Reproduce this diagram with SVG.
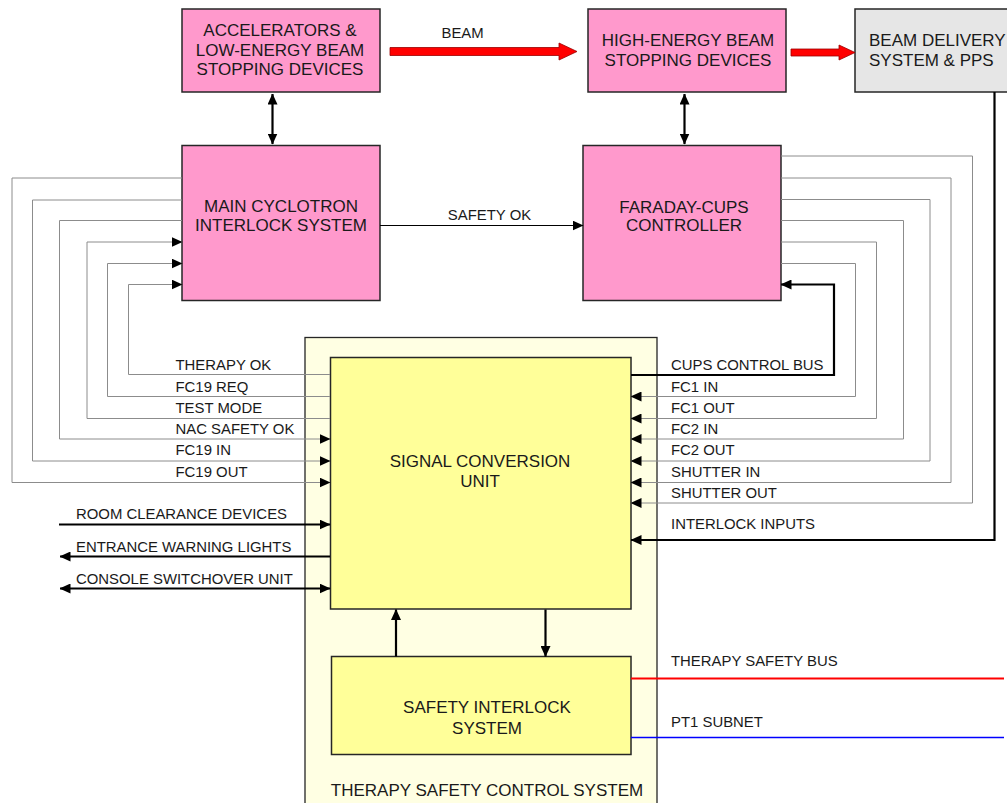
<svg xmlns="http://www.w3.org/2000/svg" width="1007" height="803" viewBox="0 0 1007 803">
<defs>
<style>
.box{stroke:#262626;stroke-width:1.5}
.pink{fill:#ff99cc}
.yel{fill:#ffff99}
.gry{fill:#e6e6e6}
.bt{font-family:"Liberation Sans",Arial,sans-serif;font-size:17px;fill:#1a1a1a;text-anchor:middle}
.lb{font-family:"Liberation Sans",Arial,sans-serif;font-size:14.9px;fill:#1a1a1a}
.thin{fill:none;stroke:#8c8c8c;stroke-width:1}
.thick{fill:none;stroke:#000;stroke-width:2.2}
.blk{fill:none;stroke:#000;stroke-width:1}
.beam{fill:#ff0000;stroke:#990000;stroke-width:0.8}
</style>
<marker id="ah" markerWidth="11" markerHeight="10" refX="10.5" refY="5" orient="auto-start-reverse" markerUnits="userSpaceOnUse">
<path d="M0,0 L11,5 L0,10 z" fill="#000"/>
</marker>
</defs>
<rect width="1007" height="803" fill="#fff"/>

<g id="tscs">
<rect x="305" y="337.5" width="352" height="480" fill="#ffffe3" stroke="#262626" stroke-width="1.3"/>
<text class="bt" x="487" y="796">THERAPY SAFETY CONTROL SYSTEM</text>
</g>

<g id="accelerators">
<rect class="box pink" x="182" y="9" width="198" height="83"/>
<text class="bt" x="280" y="36">ACCELERATORS &amp;</text>
<text class="bt" x="280" y="55.5">LOW-ENERGY BEAM</text>
<text class="bt" x="280" y="75">STOPPING DEVICES</text>
</g>

<g id="high-energy">
<rect class="box pink" x="588" y="9" width="198" height="83"/>
<text class="bt" x="688" y="46">HIGH-ENERGY BEAM</text>
<text class="bt" x="688" y="66">STOPPING DEVICES</text>
</g>

<g id="beam-delivery">
<rect class="box gry" x="855" y="9" width="200" height="83"/>
<text class="bt" x="869" y="46" style="text-anchor:start">BEAM DELIVERY</text>
<text class="bt" x="869" y="66" style="text-anchor:start">SYSTEM &amp; PPS</text>
</g>

<g id="main-cyclotron">
<rect class="box pink" x="182" y="145.5" width="198" height="155"/>
<text class="bt" x="281" y="212">MAIN CYCLOTRON</text>
<text class="bt" x="281" y="231">INTERLOCK SYSTEM</text>
</g>

<g id="faraday">
<rect class="box pink" x="583" y="145.5" width="198" height="155"/>
<text class="bt" x="684" y="212.5">FARADAY-CUPS</text>
<text class="bt" x="684" y="231">CONTROLLER</text>
</g>

<g id="scu">
<rect class="box yel" x="330.5" y="357.5" width="300.5" height="251.5"/>
<text class="bt" x="480" y="467">SIGNAL CONVERSION</text>
<text class="bt" x="480" y="487">UNIT</text>
</g>

<g id="sis">
<rect class="box yel" x="331.5" y="656.5" width="299.5" height="98"/>
<text class="bt" x="487" y="713">SAFETY INTERLOCK</text>
<text class="bt" x="487" y="734">SYSTEM</text>
</g>

<g id="connectors">
<polygon class="beam" points="390,47.5 559,47.5 559,43 577,51.5 559,60 559,55.5 390,55.5"/>
<polygon class="beam" points="791,49 839,49 839,45 855,52.5 839,60 839,56 791,56"/>
<text class="lb" x="441.5" y="38">BEAM</text>

<line class="thick" x1="272.5" y1="94" x2="272.5" y2="144" marker-start="url(#ah)" marker-end="url(#ah)"/>
<line class="thick" x1="684.5" y1="94" x2="684.5" y2="144" marker-start="url(#ah)" marker-end="url(#ah)"/>

<line class="blk" x1="380" y1="225.5" x2="583" y2="225.5" marker-end="url(#ah)"/>
<text class="lb" x="489.5" y="220" text-anchor="middle">SAFETY OK</text>

<path class="thin" d="M182,178 H12 V482.5 H330" marker-end="url(#ah)"/>
<path class="thin" d="M182,200 H32.5 V461 H330" marker-end="url(#ah)"/>
<path class="thin" d="M182,220.5 H59.5 V439 H330" marker-end="url(#ah)"/>
<path class="thin" d="M330,418.5 H87 V242 H182" marker-end="url(#ah)"/>
<path class="thin" d="M330,396.5 H107.5 V263.5 H182" marker-end="url(#ah)"/>
<path class="thin" d="M330,374.5 H128.5 V284.5 H182" marker-end="url(#ah)"/>
<text class="lb" x="175.5" y="369.5">THERAPY OK</text>
<text class="lb" x="175.5" y="391.5">FC19 REQ</text>
<text class="lb" x="175.5" y="412.5">TEST MODE</text>
<text class="lb" x="175.5" y="433.5">NAC SAFETY OK</text>
<text class="lb" x="175.5" y="455">FC19 IN</text>
<text class="lb" x="175.5" y="476.5">FC19 OUT</text>

<path class="thin" d="M781,156 H972.5 V503 H631" marker-end="url(#ah)"/>
<path class="thin" d="M781,178 H951 V482.5 H631" marker-end="url(#ah)"/>
<path class="thin" d="M781,199.5 H930 V461 H631" marker-end="url(#ah)"/>
<path class="thin" d="M781,220.5 H903.5 V439 H631" marker-end="url(#ah)"/>
<path class="thin" d="M781,242 H876.5 V418.5 H631" marker-end="url(#ah)"/>
<path class="thin" d="M781,263.5 H855.5 V396.5 H631" marker-end="url(#ah)"/>
<path class="thick" d="M631,375 H834 V284.5 H781" marker-end="url(#ah)"/>
<path class="thick" d="M994.5,92 V540 H631" marker-end="url(#ah)"/>
<text class="lb" x="671" y="369.5">CUPS CONTROL BUS</text>
<text class="lb" x="671" y="391.5">FC1 IN</text>
<text class="lb" x="671" y="412.5">FC1 OUT</text>
<text class="lb" x="671" y="433.5">FC2 IN</text>
<text class="lb" x="671" y="455">FC2 OUT</text>
<text class="lb" x="671" y="476.5">SHUTTER IN</text>
<text class="lb" x="671" y="497.5">SHUTTER OUT</text>
<text class="lb" x="671" y="528.5">INTERLOCK INPUTS</text>

<line class="thick" x1="59" y1="524.5" x2="330" y2="524.5" marker-end="url(#ah)"/>
<line class="thick" x1="330" y1="556.5" x2="60" y2="556.5" marker-end="url(#ah)"/>
<line class="thick" x1="60" y1="588.5" x2="330" y2="588.5" marker-start="url(#ah)" marker-end="url(#ah)"/>
<text class="lb" x="76" y="518.5">ROOM CLEARANCE DEVICES</text>
<text class="lb" x="76" y="551.5">ENTRANCE WARNING LIGHTS</text>
<text class="lb" x="76" y="583.5">CONSOLE SWITCHOVER UNIT</text>

<line class="thick" x1="396" y1="656.5" x2="396" y2="609.5" marker-end="url(#ah)"/>
<line class="thick" x1="545.5" y1="609.5" x2="545.5" y2="656.5" marker-end="url(#ah)"/>

<line x1="631" y1="678.5" x2="1004" y2="678.5" stroke="#ff0000" stroke-width="2"/>
<line x1="631" y1="737.5" x2="1004" y2="737.5" stroke="#0000ff" stroke-width="1.6"/>
<text class="lb" x="671" y="666">THERAPY SAFETY BUS</text>
<text class="lb" x="671" y="727">PT1 SUBNET</text>
</g>
</svg>
